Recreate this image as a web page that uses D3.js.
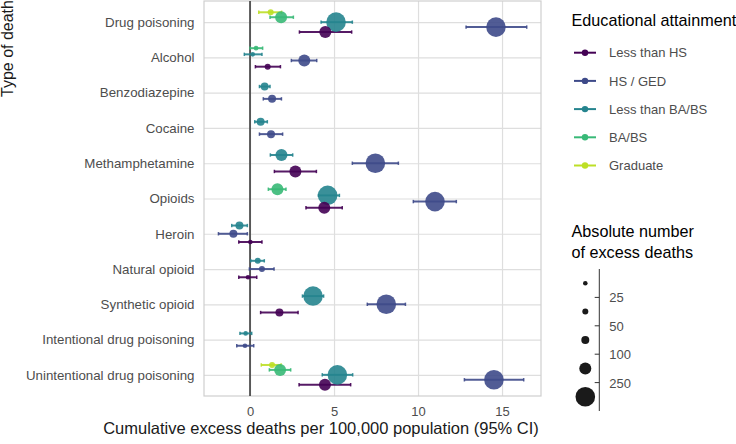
<!DOCTYPE html>
<html><head><meta charset="utf-8">
<script src="https://cdn.jsdelivr.net/npm/d3@7"></script>
<style>
html,body{margin:0;padding:0;background:#fff;}
svg{display:block;font-family:"Liberation Sans",Arial,sans-serif;}
</style></head>
<body>
<svg id="chart" width="736" height="444"></svg>
<script>
// ---------- DATA ----------
const categories = ["Drug poisoning","Alcohol","Benzodiazepine","Cocaine","Methamphetamine","Opioids","Heroin","Natural opioid","Synthetic opioid","Intentional drug poisoning","Unintentional drug poisoning"];
const groups = ["Less than HS","HS / GED","Less than BA/BS","BA/BS","Graduate"];
const xTicks = [0,5,10,15];
const sizeBreaks = [25,50,100,250];

// Less than HS
const estLtHS = [4.48,1.05,null,null,2.70,4.42,0.02,-0.12,1.75,null,4.46];
const loLtHS  = [2.94,0.32,null,null,1.45,3.33,-0.67,-0.67,0.63,null,2.92];
const hiLtHS  = [6.05,1.81,null,null,3.95,5.49,0.71,0.40,2.86,null,5.99];
const nLtHS   = [230,40,null,null,130,200,15,12,70,null,220];
// HS / GED
const estHS = [14.64,3.23,1.31,1.25,7.46,11.01,-0.99,0.71,8.11,-0.30,14.52];
const loHS  = [12.86,2.46,0.79,0.56,6.09,9.72,-1.88,-0.04,6.98,-0.79,12.76];
const hiHS  = [16.47,3.97,1.87,1.94,8.83,12.28,-0.16,1.43,9.25,0.22,16.29];
const nHS   = [1500,160,80,90,500,1100,75,35,600,18,1400];
// Less than BA/BS
const estLtBA = [5.12,0.16,0.87,0.63,1.87,4.62,-0.63,0.46,3.75,-0.26,5.20];
const loLtBA  = [4.23,-0.34,0.56,0.28,1.21,4.07,-1.09,0.04,3.12,-0.60,4.30];
const hiLtBA  = [6.09,0.71,1.19,1.03,2.54,5.32,-0.16,0.85,4.38,0.10,6.11];
const nLtBA   = [900,15,70,60,120,800,60,30,450,16,850];
// BA/BS
const estBA = [1.85,0.36,null,null,null,1.63,null,null,null,null,1.79];
const loBA  = [1.19,0.00,null,null,null,1.09,null,null,null,null,1.15];
const hiBA  = [2.58,0.75,null,null,null,2.14,null,null,null,null,2.42];
const nBA   = [180,20,null,null,null,110,null,null,null,null,170];
// Graduate
const estGrad = [1.23,null,null,null,null,null,null,null,null,null,1.31];
const loGrad  = [0.52,null,null,null,null,null,null,null,null,null,0.67];
const hiGrad  = [1.88,null,null,null,null,null,null,null,null,null,1.85];
const nGrad   = [40,null,null,null,null,null,null,null,null,null,38];

const seriesEst = [estLtHS,estHS,estLtBA,estBA,estGrad];
const seriesLo  = [loLtHS,loHS,loLtBA,loBA,loGrad];
const seriesHi  = [hiLtHS,hiHS,hiLtBA,hiBA,hiGrad];
const seriesN   = [nLtHS,nHS,nLtBA,nBA,nGrad];

// ---------- BUILD ROWS ----------
const rows = [];
categories.forEach((c,ci)=>{
  const present = [];
  for(let g=groups.length-1; g>=0; g--){ if(seriesEst[g][ci]!==null) present.push(g); }
  present.forEach((g,k)=>{
    rows.push({cat:c, group:groups[g], gi:g, k:k, np:present.length,
      est:seriesEst[g][ci], lo:seriesLo[g][ci], hi:seriesHi[g][ci], n:seriesN[g][ci]});
  });
});

// ---------- SCALES ----------
const svg = d3.select("#chart");
const pL=204, pR=541, pT=1, pB=396;
const x = d3.scaleLinear().domain([-2.74,17.32]).range([pL,pR]);
const y = d3.scalePoint().domain(categories).range([pT,pB]).padding(0.6);
const dodgeW = 0.7*y.step();
const yPos = d => y(d.cat) + (d.k - (d.np-1)/2)*(dodgeW/d.np);
const color = d3.scaleOrdinal().domain(groups).range([0,0.225,0.45,0.675,0.9].map(t=>d3.interpolateViridis(t)));
const rScale = d3.scaleThreshold().domain(sizeBreaks).range([2.3,3,4,6,9.8]);

// ---------- PANEL ----------
const gridColor="#dedede";
svg.append("g").attr("transform",`translate(0,${pB})`)
  .call(d3.axisBottom(x).tickValues(xTicks).tickSize(-(pB-pT)).tickFormat(""))
  .call(g=>{g.select(".domain").remove(); g.selectAll("line").attr("stroke",gridColor).attr("stroke-width",1.2);});
svg.append("g").attr("transform",`translate(${pL},0)`)
  .call(d3.axisLeft(y).tickSize(-(pR-pL)).tickFormat(""))
  .call(g=>{g.select(".domain").remove(); g.selectAll("line").attr("stroke",gridColor).attr("stroke-width",1.2);});
svg.append("rect").attr("x",pL).attr("y",pT).attr("width",pR-pL).attr("height",pB-pT)
  .attr("fill","none").attr("stroke","#cfcfcf").attr("stroke-width",1.2);
svg.append("line").attr("x1",x(0)).attr("x2",x(0)).attr("y1",pT).attr("y2",pB)
  .attr("stroke","#4d4d4d").attr("stroke-width",1.8);

// ---------- AXES LABELS ----------
svg.append("g").attr("transform",`translate(0,${pB})`)
  .call(d3.axisBottom(x).tickValues(xTicks).tickSize(0).tickPadding(10.5))
  .call(g=>{g.select(".domain").remove(); g.selectAll("text").attr("font-size",13).attr("fill","#4d4d4d").attr("font-family","Liberation Sans, Arial, sans-serif");});
svg.append("g").attr("transform",`translate(${pL},0)`)
  .call(d3.axisLeft(y).tickSize(0).tickPadding(9.5))
  .call(g=>{g.select(".domain").remove(); g.selectAll("text").attr("font-size",13.3).attr("fill","#4d4d4d").attr("font-family","Liberation Sans, Arial, sans-serif");});

svg.append("text").attr("x",321).attr("y",434).attr("text-anchor","middle")
  .attr("font-size",16.5).attr("fill","#1a1a1a").text("Cumulative excess deaths per 100,000 population (95% CI)");
svg.append("text").attr("transform","translate(12.5,97) rotate(-90)").attr("text-anchor","start")
  .attr("font-size",16).attr("fill","#1a1a1a").text("Type of death");

// ---------- MARKS ----------
const drawOrder = rows.slice().sort((a,b)=>b.gi-a.gi);
const eb = svg.append("g");
drawOrder.forEach(d=>{
  const yy=yPos(d), c=color(d.group);
  eb.append("line").attr("x1",x(d.lo)).attr("x2",x(d.hi)).attr("y1",yy).attr("y2",yy)
    .attr("stroke",c).attr("stroke-width",2).attr("stroke-opacity",0.9);
  [d.lo,d.hi].forEach(v=>eb.append("line").attr("x1",x(v)).attr("x2",x(v)).attr("y1",yy-1.7).attr("y2",yy+1.7)
    .attr("stroke",c).attr("stroke-width",1.5).attr("stroke-opacity",0.9));
});
svg.append("g").selectAll("circle").data(drawOrder).join("circle")
  .attr("cx",d=>x(d.est)).attr("cy",d=>yPos(d)).attr("r",d=>rScale(d.n))
  .attr("fill",d=>color(d.group)).attr("fill-opacity",0.9);

// ---------- COLOUR LEGEND ----------
const lg = svg.append("g");
lg.append("text").attr("x",571.5).attr("y",26).attr("font-size",16.2).attr("fill","#000").text("Educational attainment");
groups.forEach((g,i)=>{
  const yy = 52.7 + i*28.2;
  lg.append("line").attr("x1",574).attr("x2",596).attr("y1",yy).attr("y2",yy).attr("stroke",color(g)).attr("stroke-width",2);
  lg.append("circle").attr("cx",585).attr("cy",yy).attr("r",3.2).attr("fill",color(g));
  lg.append("text").attr("x",609).attr("y",yy+4.6).attr("font-size",13).attr("fill","#4d4d4d").text(g);
});

// ---------- SIZE LEGEND ----------
const sg = svg.append("g");
sg.append("text").attr("x",571.5).attr("y",236.5).attr("font-size",16.2).attr("fill","#000").text("Absolute number");
sg.append("text").attr("x",571.5).attr("y",257.5).attr("font-size",16.2).attr("fill","#000").text("of excess deaths");
const ls = d3.scaleLinear().domain([0,sizeBreaks.length+1]).range([269,411]);
sg.append("line").attr("x1",599.3).attr("x2",599.3).attr("y1",ls(0)).attr("y2",ls(sizeBreaks.length+1)).attr("stroke","#333").attr("stroke-width",1);
sizeBreaks.forEach((b,i)=>{
  const yy=ls(i+1);
  sg.append("line").attr("x1",594.7).attr("x2",599.3).attr("y1",yy).attr("y2",yy).attr("stroke","#333").attr("stroke-width",1);
  sg.append("text").attr("x",609.3).attr("y",yy+5).attr("font-size",13).attr("fill","#4d4d4d").text(b);
});
const binRep = [sizeBreaks[0]-1].concat(sizeBreaks);
binRep.forEach((v,i)=>{
  sg.append("circle").attr("cx",585.3).attr("cy",ls(i+0.5)).attr("r",rScale(v)).attr("fill","#1a1a1a");
});
</script>
</body></html>
